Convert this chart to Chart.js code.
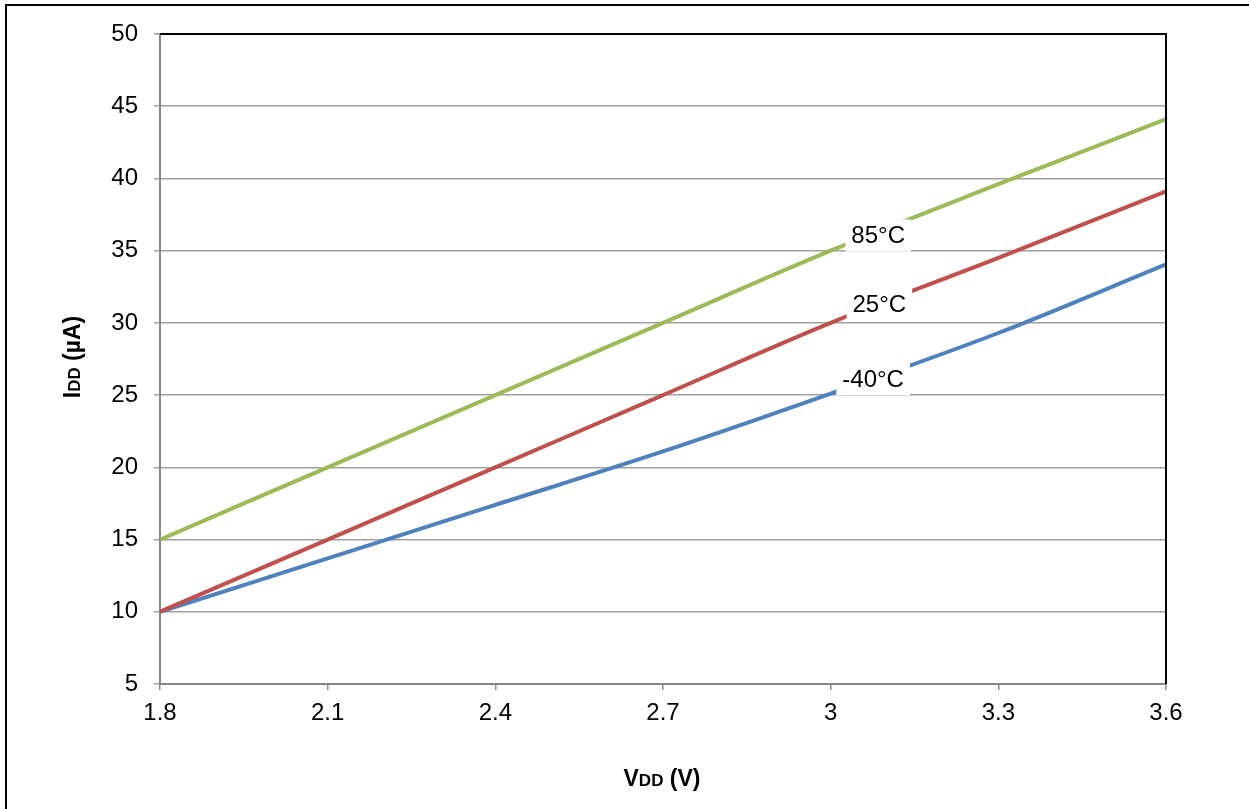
<!DOCTYPE html>
<html>
<head>
<meta charset="utf-8">
<script src="https://cdn.jsdelivr.net/npm/chart.js@4"></script>
<style>
  body { margin: 0; background: #fff; }
  canvas { display: block; }
</style>
</head>
<body>
<canvas id="idd" width="1249" height="809"></canvas>
<script>
// data
const vdd = [1.8, 2.1, 2.4, 2.7, 3.0, 3.3, 3.6];
const idd85 = [15, 20, 25, 30, 35, 39.6, 44.1];
const idd25 = [10, 15, 20, 25, 30, 34.5, 39.1];
const iddM40 = [10, 13.7, 17.4, 21.1, 25.1, 29.3, 34.05];
const seriesNames = ['85°C', '25°C', '-40°C'];
const xTicks = [1.8, 2.1, 2.4, 2.7, 3, 3.3, 3.6];
const yTicks = [5, 10, 15, 20, 25, 30, 35, 40, 45, 50];

// where the in-plot labels sit (data coords)
const labelX = [3.085, 3.087, 3.076];
const labelY = [36.05, 31.25, 26.1];

const colors = ['#9BBB59', '#C0504D', '#4F81BD'];
const font = '"Liberation Sans", Arial, sans-serif';

Chart.defaults.font.family = font;
Chart.defaults.color = '#000';

function pts(ys) {
  return vdd.map((v, i) => ({ x: v, y: ys[i] }));
}

const frame = {
  id: 'frame',
  beforeDraw(chart) {
    const c = chart.ctx;
    c.save();
    c.fillStyle = '#fff';
    c.fillRect(0, 0, chart.width, chart.height);
    c.strokeStyle = '#000';
    c.lineWidth = 2;
    c.beginPath();
    c.moveTo(6, chart.height + 2);
    c.lineTo(6, 5);
    c.lineTo(chart.width + 2, 5);
    c.stroke();
    c.restore();
  },
  afterDatasetsDraw(chart) {
    const c = chart.ctx;
    const a = chart.chartArea;
    const xs = chart.scales.x, ys = chart.scales.y;
    c.save();
    // black top and right edges of the plot
    c.strokeStyle = '#000';
    c.lineWidth = 2;
    c.beginPath();
    c.moveTo(a.left, a.top);
    c.lineTo(a.right, a.top);
    c.lineTo(a.right, a.bottom);
    c.stroke();

    // series labels on white boxes
    c.font = '24px ' + font;
    c.textAlign = 'center';
    c.textBaseline = 'middle';
    seriesNames.forEach((t, i) => {
      const px = xs.getPixelForValue(labelX[i]);
      const py = ys.getPixelForValue(labelY[i]);
      const w = c.measureText(t).width + 12;
      c.fillStyle = '#fff';
      c.fillRect(px - w / 2, py - 16, w, 32);
      c.fillStyle = '#000';
      c.fillText(t, px, py + 1);
    });

    // axis titles with small "DD"
    drawTitle(c, [['V', 23], ['DD', 17], [' (V)', 23]], 662, 778, 0);
    drawTitle(c, [['I', 23], ['DD', 17], [' (µA)', 23]], 72, 357, -Math.PI / 2);
    c.restore();
  }
};

function drawTitle(c, parts, cx, cy, rot) {
  c.save();
  c.translate(cx, cy);
  c.rotate(rot);
  c.fillStyle = '#000';
  c.textAlign = 'left';
  c.textBaseline = 'alphabetic';
  let total = 0;
  parts.forEach(p => {
    c.font = 'bold ' + p[1] + 'px ' + font;
    total += c.measureText(p[0]).width;
  });
  let x = -total / 2;
  parts.forEach(p => {
    c.font = 'bold ' + p[1] + 'px ' + font;
    c.fillText(p[0], x, 8);
    x += c.measureText(p[0]).width;
  });
  c.restore();
}

new Chart(document.getElementById('idd'), {
  type: 'line',
  data: {
    datasets: [idd85, idd25, iddM40].map((d, i) => ({
      label: seriesNames[i],
      data: pts(d),
      borderColor: colors[i],
      borderWidth: 4,
      pointRadius: 0,
      cubicInterpolationMode: 'monotone',
      fill: false
    }))
  },
  options: {
    responsive: false,
    devicePixelRatio: 1,
    animation: false,
    layout: { padding: { left: 0, top: 34, right: 83, bottom: 0 } },
    plugins: {
      legend: { display: false },
      tooltip: { enabled: false }
    },
    scales: {
      x: {
        type: 'linear',
        min: 1.8,
        max: 3.6,
        afterBuildTicks: s => { s.ticks = xTicks.map(v => ({ value: v })); },
        afterFit: s => { s.height = 125; },
        ticks: {
          font: { size: 24 },
          color: '#000',
          padding: 9,
          maxRotation: 0,
          callback: v => String(v)
        },
        grid: {
          drawOnChartArea: false,
          drawTicks: true,
          tickLength: 6,
          color: '#8c8c8c',
          lineWidth: 1.5
        },
        border: { color: '#868686', width: 2 }
      },
      y: {
        min: 5,
        max: 50,
        afterBuildTicks: s => { s.ticks = yTicks.map(v => ({ value: v })); },
        afterFit: s => { s.width = 160; },
        ticks: {
          font: { size: 24 },
          color: '#000',
          padding: 16
        },
        grid: {
          color: '#a0a0a0',
          lineWidth: 1.5,
          tickLength: 6
        },
        border: { color: '#868686', width: 2 }
      }
    }
  },
  plugins: [frame]
});
</script>
</body>
</html>
